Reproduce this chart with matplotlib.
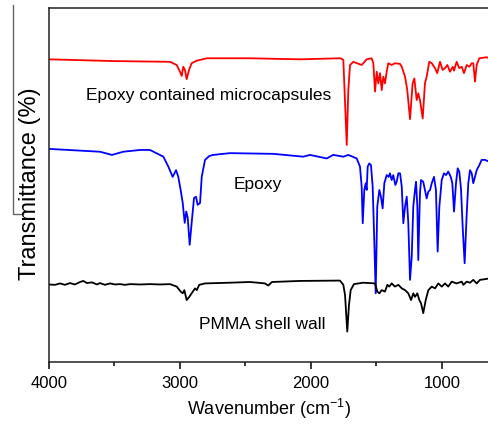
import matplotlib
matplotlib.use("Agg")
import matplotlib.pyplot as plt
from matplotlib.lines import Line2D

plt.rcParams['font.family'] = ['Liberation Sans', 'DejaVu Sans']
plt.rcParams['mathtext.default'] = 'regular'

# FTIR spectra: wavenumber (cm-1) and transmittance (a.u., stacked)
capsule_wn = [4000, 3496, 3076, 3025, 3000, 2987, 2975, 2962, 2949, 2931, 2911, 2872, 2796,
              2466, 2084, 1779, 1763, 1753, 1727, 1715, 1702, 1677, 1613, 1601, 1575, 1537,
              1524, 1511, 1498, 1486, 1473, 1460, 1448, 1435, 1422, 1410, 1384, 1359, 1320,
              1307, 1282, 1265, 1244, 1224, 1211, 1193, 1181, 1168, 1147, 1130, 1117, 1097,
              1078, 1053, 1036, 1015, 995, 977, 959, 939, 918, 908, 888, 868, 849, 832, 811,
              791, 773, 761, 748, 735, 715, 659, 641]
capsule_t = [85.5, 85.0, 84.8, 83.9, 82.0, 80.8, 83.4, 82.5, 79.9, 82.5, 84.4, 85.1, 85.8,
             85.8, 85.5, 85.8, 85.6, 85.3, 61.3, 76.8, 83.9, 84.8, 83.9, 84.4, 85.5, 85.8,
             84.4, 76.4, 82.0, 78.7, 81.6, 76.8, 80.6, 78.7, 82.0, 84.4, 83.9, 84.4, 84.2,
             83.4, 80.6, 76.8, 68.6, 78.7, 80.1, 74.0, 75.9, 74.0, 68.8, 78.7, 80.6, 84.8,
             84.4, 83.0, 81.6, 84.8, 82.5, 83.0, 83.9, 82.0, 83.4, 82.3, 84.8, 83.0, 83.4,
             81.6, 83.9, 83.4, 84.4, 84.4, 79.2, 83.9, 85.8, 86.1, 85.8]

epoxy_wn = [4000, 3611, 3519, 3433, 3305, 3229, 3127, 3089, 3056, 3030, 3013, 2995, 2979,
            2964, 2952, 2941, 2926, 2911, 2893, 2878, 2865, 2847, 2834, 2809, 2776, 2746,
            2618, 2288, 2059, 2008, 1880, 1830, 1753, 1715, 1651, 1626, 1613, 1605, 1593,
            1582, 1575, 1567, 1555, 1542, 1529, 1517, 1506, 1494, 1478, 1466, 1453, 1440,
            1422, 1407, 1397, 1384, 1372, 1356, 1346, 1333, 1320, 1307, 1295, 1282, 1269,
            1257, 1244, 1231, 1219, 1206, 1198, 1188, 1181, 1168, 1160, 1143, 1130, 1117,
            1104, 1091, 1078, 1061, 1046, 1033, 1020, 1002, 985, 969, 952, 933, 921, 908,
            893, 880, 868, 855, 842, 827, 811, 799, 786, 773, 761, 748, 735, 715, 697, 672, 641]
epoxy_t = [60.2, 59.4, 58.5, 59.4, 59.9, 59.9, 58.0, 55.2, 52.3, 54.2, 52.3, 48.6, 44.9,
           39.3, 42.5, 40.7, 33.1, 39.3, 46.3, 46.7, 44.4, 44.9, 52.3, 57.1, 58.2, 58.5,
           59.0, 58.8, 58.0, 58.5, 57.5, 58.5, 58.0, 58.5, 57.5, 55.2, 49.5, 39.2, 48.6,
           50.5, 48.6, 55.2, 56.1, 55.6, 49.5, 34.5, 19.4, 43.9, 48.6, 46.7, 43.4, 50.5,
           52.8, 52.3, 53.3, 51.4, 52.8, 50.0, 50.9, 53.3, 53.3, 49.5, 39.2, 43.9, 46.7,
           39.2, 23.2, 29.7, 43.9, 48.6, 50.9, 43.9, 28.8, 47.7, 51.4, 50.9, 48.6, 46.2,
           48.1, 48.6, 50.5, 52.3, 48.6, 31.2, 43.9, 51.4, 53.3, 52.8, 53.8, 52.3, 50.5, 42.5,
           50.5, 54.7, 53.8, 49.1, 38.2, 27.9, 42.0, 50.5, 54.2, 53.3, 50.5, 52.3, 54.2, 55.6,
           57.1, 57.1, 56.6]

pmma_wn = [4000, 3954, 3916, 3878, 3840, 3802, 3763, 3738, 3710, 3672, 3634, 3611, 3573,
           3534, 3496, 3458, 3420, 3382, 3305, 3229, 3153, 3076, 3025, 2995, 2979, 2967,
           2949, 2929, 2911, 2885, 2872, 2853, 2809, 2618, 2466, 2351, 2326, 2298, 2084,
           1779, 1753, 1740, 1723, 1710, 1697, 1672, 1601, 1511, 1494, 1478, 1460, 1435,
           1417, 1402, 1384, 1359, 1333, 1307, 1282, 1257, 1236, 1219, 1206, 1188, 1173,
           1160, 1143, 1124, 1104, 1078, 1053, 1028, 1002, 977, 952, 926, 888, 849, 837,
           811, 786, 761, 735, 710, 672, 641]
pmma_t = [21.9, 21.8, 22.2, 21.8, 22.3, 21.9, 22.6, 22.9, 22.3, 22.5, 21.9, 22.3, 21.8,
          22.2, 21.9, 22.0, 21.8, 22.0, 21.9, 22.0, 21.9, 22.0, 21.3, 19.9, 19.4, 20.3,
          17.5, 18.4, 19.4, 20.8, 20.3, 21.8, 22.2, 22.4, 22.6, 22.2, 21.6, 22.6, 22.9,
          23.0, 21.8, 18.9, 8.6, 16.1, 20.3, 22.0, 22.4, 22.2, 19.9, 19.4, 20.3, 19.9,
          21.8, 21.3, 22.2, 21.3, 21.8, 20.8, 20.3, 19.4, 17.5, 19.4, 18.4, 19.4, 17.5,
          16.6, 13.8, 17.5, 20.3, 21.3, 20.8, 22.2, 21.3, 22.2, 21.3, 22.7, 22.2, 22.7, 21.8,
          22.7, 22.4, 23.2, 22.2, 23.2, 23.4, 23.6]

labels = ['Epoxy contained microcapsules', 'Epoxy', 'PMMA shell wall']
major_ticks = [4000, 3000, 2000, 1000]
minor_ticks = [3500, 2500, 1500]

fig = plt.figure(figsize=(4.89, 4.28), dpi=100)
ax = fig.add_axes([49/489, 66/428, 440/489, 354/428])

ax.plot(capsule_wn, capsule_t, color='#ff0000', lw=1.3)
ax.plot(epoxy_wn, epoxy_t, color='#0000ff', lw=1.3)
ax.plot(pmma_wn, pmma_t, color='black', lw=1.3)

ax.text(2782, 75.4, labels[0], fontsize=12.5, ha='center', va='center')
ax.text(2408, 50.0, labels[1], fontsize=12.5, ha='center', va='center')
ax.text(2374, 10.5, labels[2], fontsize=12.5, ha='center', va='center')

ax.set_xlim(4000, 641)
ax.set_ylim(0, 100)
ax.set_xticks(major_ticks)
ax.set_xticks(minor_ticks, minor=True)
ax.set_yticks([])
ax.tick_params(axis='x', which='major', direction='out', length=5, width=1.1,
               labelsize=12, pad=5)
ax.tick_params(axis='x', which='minor', direction='out', length=3, width=1.1)
ax.spines['right'].set_visible(False)
for s in ['left', 'bottom', 'top']:
    ax.spines[s].set_linewidth(1.1)
    ax.spines[s].set_color('#222222')

ax.set_xlabel('Wavenumber (cm$^{-1}$)', fontsize=13, labelpad=4)
fig.text(30/489, 1 - 184/428, 'Transmittance (%)', rotation=90, fontsize=17,
         ha='center', va='center')

# leftover frame line at the left edge of the original image
fig.add_artist(Line2D([13/489, 13/489, 23/489], [1 - 5/428, 1 - 214/428, 1 - 214/428],
                      color='#666666', lw=1.0))

fig.savefig('out.png', dpi=100)
